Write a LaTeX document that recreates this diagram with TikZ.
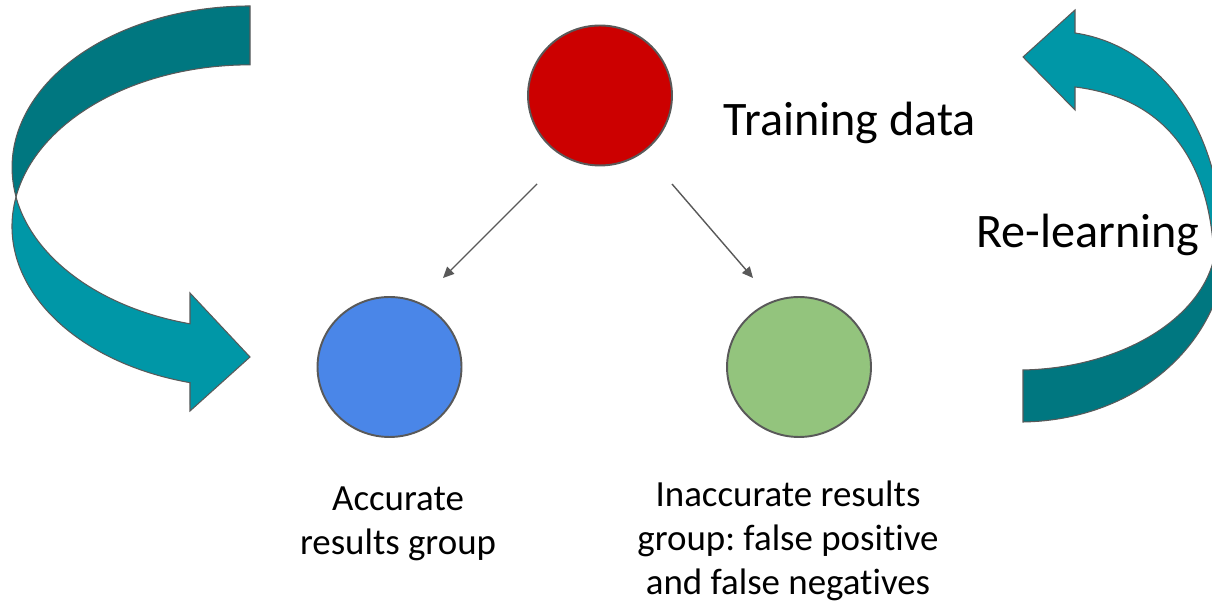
\documentclass[tikz,border=0pt]{standalone}
\usepackage{fontspec}
\setmainfont{Carlito}[Ligatures=CommonOff]
\frenchspacing
\usetikzlibrary{shapes.geometric,arrows.meta,positioning,calc}

\definecolor{dotred}{HTML}{CC0000}
\definecolor{dotblue}{HTML}{4A86E8}
\definecolor{dotgreen}{HTML}{93C47D}
\definecolor{tealback}{HTML}{007780}
\definecolor{tealfront}{HTML}{0097A7}
\definecolor{edgegray}{HTML}{595959}

\begin{document}
\begin{tikzpicture}[x=0.02cm, y=0.02cm,
  dot/.style={ellipse, draw=edgegray, line width=1.1pt, minimum width=2.88cm, minimum height=2.8cm, inner sep=0pt},
  link/.style={-{Triangle[length=2.2mm,width=2mm]}, draw=edgegray, line width=0.8pt},
  band/.style={draw=edgegray, line width=0.6pt},
  big/.style={font=\fontsize{27.4}{33}\selectfont, anchor=base, inner sep=0pt},
  small/.style={font=\fontsize{21}{25.2}\selectfont, align=center, anchor=base, inner sep=0pt}]
\useasboundingbox (0,0) rectangle (1212,604);
\begin{scope}
\clip (0,0) rectangle (1212,604);
% left curved arrow
\path[band, fill=tealback] (250,598) arc[start angle=90, end angle=190.5, x radius=4.76cm, y radius=3.23cm]
  arc[start angle=169.5, end angle=90, x radius=4.76cm, y radius=3.23cm] -- cycle;
\path[band, fill=tealfront] (16,407) arc[start angle=169.5, end angle=255.4, x radius=4.76cm, y radius=3.23cm]
  -- (190,193) -- (250,247) -- (190,311) -- (190,280.2)
  arc[start angle=255.4, end angle=190.5, x radius=4.76cm, y radius=3.23cm] -- cycle;
% right curved arrow
\path[band, fill=tealback] (1023,182) -- (1023,234) .. controls (1120,236) and (1200,284) .. (1214,346)
  -- (1226,354) .. controls (1222,264) and (1140,184) .. (1023,182) -- cycle;
\path[band, fill=tealfront] (1075,517) -- (1075,494) -- (1023,547) -- (1075,594) -- (1075,571)
  .. controls (1155,559) and (1216,484) .. (1222,374) -- (1214,346)
  .. controls (1210,444) and (1165,506) .. (1075,517) -- cycle;
\end{scope}

\node[dot, fill=dotred] (train) at (600,508.5) {};
\node[dot, fill=dotblue] (good) at (389.5,237) {};
\node[dot, fill=dotgreen] (bad) at (799,237) {};

\draw[link] ([shift={(-63,-88.5)}]train.center) -- ([shift={(53.5,89)}]good.center);
\draw[link] ([shift={(72,-88.5)}]train.center) -- ([shift={(-46,89)}]bad.center);

\node[big] (traintext) at (850,468) {Training data};
\node[big] (relearn) at (1088,356) {Re-learning};
% base of a multi-line node is its last line
\node[small] (goodtext) at (398,49) {Accurate\\results group};
\node[small] (badtext) at (788,9) {Inaccurate results\\group: false positive\\and false negatives};
\end{tikzpicture}
\end{document}
